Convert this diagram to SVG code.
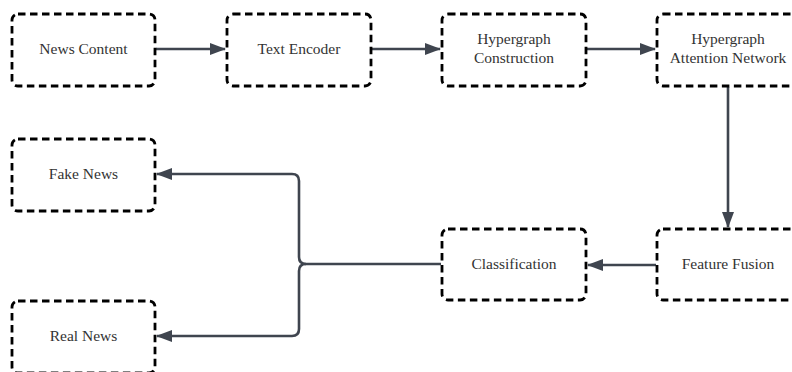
<svg xmlns="http://www.w3.org/2000/svg" width="792" height="372" viewBox="0 0 792 372">
<style>
.box{fill:#fff;stroke:#000;stroke-width:2.8;stroke-dasharray:7.5 4.5}
.lbl{font-family:"Liberation Serif","Times New Roman",serif;font-size:15.5px;fill:#333;text-anchor:middle}
.con{fill:none;stroke:#3f454f;stroke-width:2.6}
</style>
<defs>
<marker id="ah" viewBox="0 0 16 12" refX="15" refY="6" markerWidth="16" markerHeight="12" markerUnits="userSpaceOnUse" orient="auto">
<path d="M0,0 L16,6 L0,12 Z" fill="#3f454f"/>
</marker>
</defs>
<rect width="792" height="372" fill="#fff"/>
<g id="connectors">
<path class="con" d="M156,49 H225" marker-end="url(#ah)"/>
<path class="con" d="M372,49 H440" marker-end="url(#ah)"/>
<path class="con" d="M587,49 H655" marker-end="url(#ah)"/>
<path class="con" d="M728,87 V227" marker-end="url(#ah)"/>
<path class="con" d="M656,265 H588" marker-end="url(#ah)"/>
<path class="con" d="M441,264 H306 Q299,264 299,257 V181 Q299,174 292,174 H157" marker-end="url(#ah)"/>
<path class="con" d="M306,264 Q299,264 299,271 V329 Q299,336 292,336 H157" marker-end="url(#ah)"/>
</g>
<g id="news-content"><rect class="box" x="12" y="14" width="143" height="72" rx="6"/><text class="lbl" x="83.5" y="54">News Content</text></g>
<g id="text-encoder"><rect class="box" x="227" y="14" width="144" height="72" rx="6"/><text class="lbl" x="299" y="54">Text Encoder</text></g>
<g id="hypergraph-construction"><rect class="box" x="442" y="14" width="144" height="72" rx="6"/><text class="lbl" x="514" y="44">Hypergraph</text><text class="lbl" x="514" y="63">Construction</text></g>
<g id="hypergraph-attention-network"><rect class="box" x="657" y="14" width="144" height="72" rx="6"/><text class="lbl" x="728" y="44">Hypergraph</text><text class="lbl" x="728" y="63">Attention Network</text></g>
<g id="feature-fusion"><rect class="box" x="657" y="229" width="144" height="71" rx="6"/><text class="lbl" x="728" y="269">Feature Fusion</text></g>
<g id="classification"><rect class="box" x="442" y="229" width="144" height="71" rx="6"/><text class="lbl" x="514" y="269">Classification</text></g>
<g id="fake-news"><rect class="box" x="12" y="139" width="143" height="72" rx="6"/><text class="lbl" x="83.5" y="179">Fake News</text></g>
<g id="real-news"><rect class="box" x="12" y="301" width="143" height="72" rx="6"/><text class="lbl" x="83.5" y="341">Real News</text></g>
</svg>
